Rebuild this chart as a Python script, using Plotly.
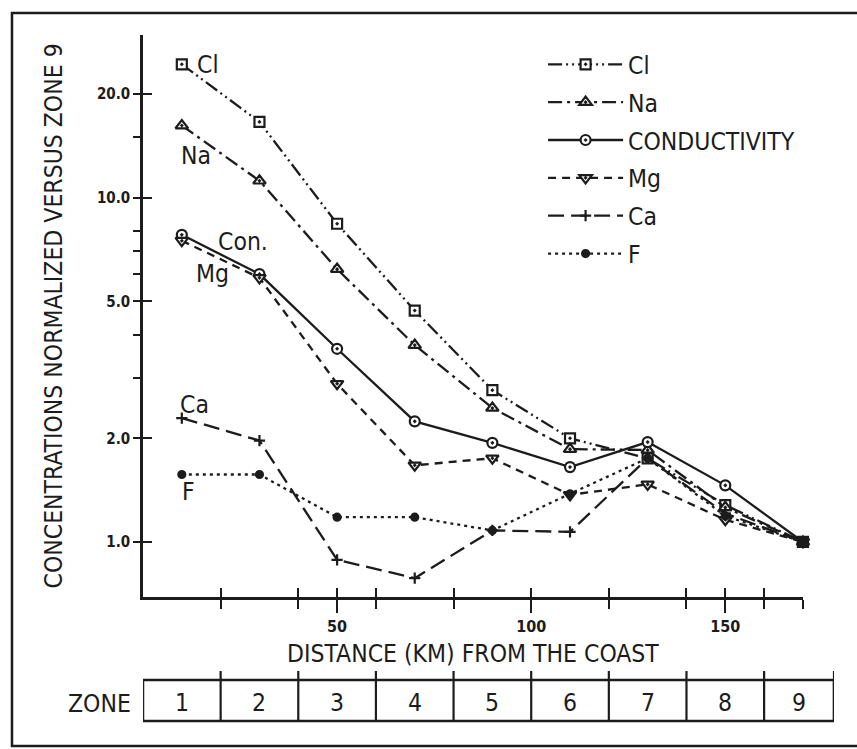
import numpy as np
import plotly.graph_objects as go

# ---------------- data ----------------
distance_km = [10, 30, 50, 70, 90, 110, 130, 150, 170]
cl = [24.4, 16.6, 8.4, 4.7, 2.76, 2.0, 1.75, 1.28, 1.0]
na = [16.2, 11.2, 6.2, 3.73, 2.45, 1.86, 1.85, 1.26, 1.0]
conductivity = [7.8, 6.0, 3.64, 2.24, 1.94, 1.65, 1.95, 1.46, 1.0]
mg = [7.5, 5.85, 2.88, 1.67, 1.75, 1.37, 1.47, 1.16, 1.0]
ca = [2.29, 1.97, 0.887, 0.785, 1.08, 1.07, 1.75, 1.21, 1.0]
fl = [1.57, 1.57, 1.18, 1.18, 1.08, 1.38, 1.75, 1.19, 1.0]

series_names = ["Cl", "Na", "CONDUCTIVITY", "Mg", "Ca", "F"]

zone_labels = ["1", "2", "3", "4", "5", "6", "7", "8", "9"]
zone_edges_km = [0, 20, 40, 60, 80, 100, 120, 140, 160, 178]

x_major_ticks = [50, 100, 150]
x_minor_ticks = [20, 40, 60, 80, 120, 140, 160, 170]
y_tickvals = [1, 2, 5, 10, 20]
y_ticktext = ["1.0", "2.0", "5.0", "10.0", "20.0"]
y_minor_ticks = [3, 4, 6, 7, 8, 15]

inline_label_text = ["Cl", "Na", "Con.", "Mg", "Ca", "F"]
inline_label_km = [16.7, 13.7, 25.7, 17.8, 13.2, 11.6]
inline_label_val = [24.4, 13.3, 7.45, 6.04, 2.50, 1.40]

y_title = "CONCENTRATIONS NORMALIZED VERSUS ZONE 9"
x_title = "DISTANCE (KM) FROM THE COAST"

# ---------------- style ----------------
INK = "#1c1c1c"
FONT = "DejaVu Sans Condensed, Liberation Sans Narrow, sans-serif"
X_RANGE = [0, 170]
Y_RANGE = [np.log10(0.692), 1.4725]
ZONE_RANGE = [0, 178]
BIG = 24.5

styles = [
    dict(dash="14px,4px,2px,4px,2px,4px", symbol="square-dot", size=10, fill="white"),
    dict(dash="14px,5px,3px,5px", symbol="triangle-up-dot", size=11, fill="white"),
    dict(dash="solid", symbol="circle-dot", size=10, fill="white"),
    dict(dash="8px,6px", symbol="triangle-down-dot", size=11, fill="white"),
    dict(dash="16px,7px", symbol="cross-thin", size=8, fill=INK),
    dict(dash="3px,4px", symbol="circle", size=7, fill=INK),
]
values = [cl, na, conductivity, mg, ca, fl]

fig = go.Figure()
for name, vals, st in zip(series_names, values, styles):
    fig.add_trace(go.Scatter(
        x=distance_km, y=vals, name=name, mode="lines+markers",
        legendgroup=name,
        line=dict(color=INK, width=2.3, dash=st["dash"]),
        marker=dict(symbol=st["symbol"], size=st["size"], color=st["fill"],
                    line=dict(color=INK, width=2.2)),
        cliponaxis=False,
    ))

# dummy traces to create overlay axes (crossing ticks) and the zone strip
fig.add_trace(go.Scatter(x=[None], y=[None], xaxis="x2", yaxis="y2",
                         showlegend=False, hoverinfo="skip"))
fig.add_trace(go.Scatter(x=[None], y=[None], xaxis="x3", yaxis="y3",
                         showlegend=False, hoverinfo="skip"))

fig.update_layout(
    width=857, height=749,
    margin=dict(l=143, r=23, t=35, b=28),
    paper_bgcolor="white", plot_bgcolor="white",
    font=dict(family=FONT, color=INK, size=BIG),
    showlegend=True,
    legend=dict(
        x=0.579, y=0.99, xanchor="left", yanchor="top",
        bgcolor="rgba(0,0,0,0)", borderwidth=0,
        font=dict(family=FONT, size=BIG, color=INK),
        itemwidth=75, tracegroupgap=3,
    ),
    xaxis=dict(
        domain=[0, 170 / 178], range=X_RANGE, anchor="y",
        showline=True, linecolor=INK, linewidth=2.5, mirror=False,
        showgrid=False, zeroline=False,
        tickmode="array", tickvals=x_major_ticks,
        ticktext=[str(v) for v in x_major_ticks],
        ticks="outside", ticklen=13, tickwidth=2, tickcolor=INK,
        tickfont=dict(family=FONT, size=16, color=INK, weight="bold"),
        minor=dict(tickmode="array", tickvals=x_minor_ticks, ticks="outside",
                   ticklen=9, tickwidth=2, tickcolor=INK, showgrid=False),
        title=dict(text=x_title, standoff=10,
                   font=dict(family=FONT, size=BIG, color=INK)),
    ),
    xaxis2=dict(
        overlaying="x", range=X_RANGE, anchor="y", side="bottom",
        showline=False, showgrid=False, zeroline=False, showticklabels=False,
        tickmode="array", tickvals=x_major_ticks + x_minor_ticks,
        ticks="inside", ticklen=9, tickwidth=2, tickcolor=INK,
    ),
    yaxis=dict(
        domain=[124 / 686, 1], type="log", range=Y_RANGE, anchor="x",
        showline=True, linecolor=INK, linewidth=2.5,
        showgrid=False, zeroline=False,
        tickmode="array", tickvals=y_tickvals, ticktext=y_ticktext,
        ticks="outside", ticklen=7, tickwidth=2, tickcolor=INK,
        ticklabelstandoff=0,
        tickfont=dict(family=FONT, size=15, color=INK, weight="bold"),
        minor=dict(tickmode="array", tickvals=y_minor_ticks, ticks="outside",
                   ticklen=7, tickwidth=2, tickcolor=INK, showgrid=False),
    ),
    yaxis2=dict(
        overlaying="y", type="log", range=Y_RANGE, anchor="x", side="left",
        showline=False, showgrid=False, zeroline=False, showticklabels=False,
        tickmode="array", tickvals=y_tickvals,
        ticks="inside", ticklen=9, tickwidth=2, tickcolor=INK,
    ),
    xaxis3=dict(domain=[0, 1], range=ZONE_RANGE, anchor="y3", visible=False),
    yaxis3=dict(domain=[0, 41 / 686], range=[0, 1], anchor="x3", visible=False),
)

# y-axis title
fig.add_annotation(x=-0.130, y=0.590, xref="paper", yref="paper", text=y_title,
                   textangle=-90, showarrow=False, xanchor="center", yanchor="middle",
                   font=dict(family=FONT, size=BIG, color=INK))

# inline series labels
for txt, xk, yv in zip(inline_label_text, inline_label_km, inline_label_val):
    fig.add_annotation(x=xk, y=np.log10(yv), xref="x", yref="y", text=txt,
                       showarrow=False, xanchor="center", yanchor="middle",
                       font=dict(family=FONT, size=BIG, color=INK))

# zone strip
box_top = 41 / 686
stub_top = 50 / 686
fig.add_shape(type="rect", xref="x3", yref="paper",
              x0=zone_edges_km[0], x1=zone_edges_km[-1], y0=0, y1=box_top,
              line=dict(color=INK, width=2.5))
for e in zone_edges_km[1:]:
    fig.add_shape(type="line", xref="x3", yref="paper",
                  x0=e, x1=e, y0=0, y1=stub_top,
                  line=dict(color=INK, width=2.2))
for lab, a, b in zip(zone_labels, zone_edges_km[:-1], zone_edges_km[1:]):
    fig.add_annotation(x=(a + b) / 2, y=0.45, xref="x3", yref="y3", text=lab,
                       showarrow=False, font=dict(family=FONT, size=BIG, color=INK))
fig.add_annotation(x=-0.014, y=18 / 686, xref="paper", yref="paper", text="ZONE",
                   showarrow=False, xanchor="right", yanchor="middle",
                   font=dict(family=FONT, size=BIG, color=INK))

# scanned page frame (left, top, bottom)
fig.add_shape(type="path", xref="paper", yref="paper",
              path="M 1.2,1.0321 L -0.1896,1.0321 L -0.1896,-0.0364 L 1.2,-0.0364",
              line=dict(color=INK, width=2.5))

fig.write_html("out.html")
